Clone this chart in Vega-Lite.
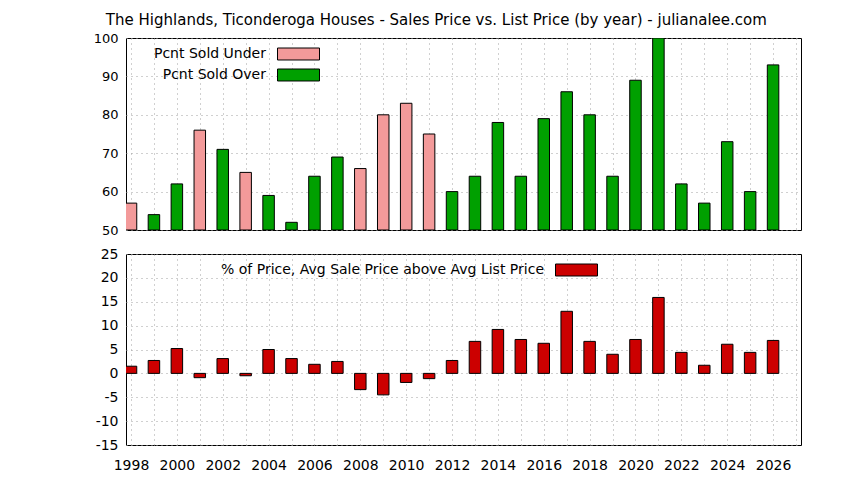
{
  "$schema": "https://vega.github.io/schema/vega-lite/v6.json",
  "background": "white",
  "padding": {"left": 92, "top": 12, "right": 0, "bottom": 0},
  "title": {
    "text": "The Highlands, Ticonderoga Houses - Sales Price vs. List Price (by year) - julianalee.com",
    "anchor": "middle",
    "dx": -11,
    "fontSize": 15,
    "fontWeight": "normal",
    "color": "black",
    "offset": 4
  },
  "datasets": {
    "sales": [
      {"year": 1998, "pcnt": 57, "kind": "Pcnt Sold Under", "above": 1.5, "series": "% of Price, Avg Sale Price above Avg List Price"},
      {"year": 1999, "pcnt": 54, "kind": "Pcnt Sold Over", "above": 2.7, "series": "% of Price, Avg Sale Price above Avg List Price"},
      {"year": 2000, "pcnt": 62, "kind": "Pcnt Sold Over", "above": 5.2, "series": "% of Price, Avg Sale Price above Avg List Price"},
      {"year": 2001, "pcnt": 76, "kind": "Pcnt Sold Under", "above": -0.9, "series": "% of Price, Avg Sale Price above Avg List Price"},
      {"year": 2002, "pcnt": 71, "kind": "Pcnt Sold Over", "above": 3.1, "series": "% of Price, Avg Sale Price above Avg List Price"},
      {"year": 2003, "pcnt": 65, "kind": "Pcnt Sold Under", "above": -0.5, "series": "% of Price, Avg Sale Price above Avg List Price"},
      {"year": 2004, "pcnt": 59, "kind": "Pcnt Sold Over", "above": 5.0, "series": "% of Price, Avg Sale Price above Avg List Price"},
      {"year": 2005, "pcnt": 52, "kind": "Pcnt Sold Over", "above": 3.1, "series": "% of Price, Avg Sale Price above Avg List Price"},
      {"year": 2006, "pcnt": 64, "kind": "Pcnt Sold Over", "above": 1.9, "series": "% of Price, Avg Sale Price above Avg List Price"},
      {"year": 2007, "pcnt": 69, "kind": "Pcnt Sold Over", "above": 2.5, "series": "% of Price, Avg Sale Price above Avg List Price"},
      {"year": 2008, "pcnt": 66, "kind": "Pcnt Sold Under", "above": -3.4, "series": "% of Price, Avg Sale Price above Avg List Price"},
      {"year": 2009, "pcnt": 80, "kind": "Pcnt Sold Under", "above": -4.5, "series": "% of Price, Avg Sale Price above Avg List Price"},
      {"year": 2010, "pcnt": 83, "kind": "Pcnt Sold Under", "above": -1.9, "series": "% of Price, Avg Sale Price above Avg List Price"},
      {"year": 2011, "pcnt": 75, "kind": "Pcnt Sold Under", "above": -1.1, "series": "% of Price, Avg Sale Price above Avg List Price"},
      {"year": 2012, "pcnt": 60, "kind": "Pcnt Sold Over", "above": 2.7, "series": "% of Price, Avg Sale Price above Avg List Price"},
      {"year": 2013, "pcnt": 64, "kind": "Pcnt Sold Over", "above": 6.7, "series": "% of Price, Avg Sale Price above Avg List Price"},
      {"year": 2014, "pcnt": 78, "kind": "Pcnt Sold Over", "above": 9.2, "series": "% of Price, Avg Sale Price above Avg List Price"},
      {"year": 2015, "pcnt": 64, "kind": "Pcnt Sold Over", "above": 7.1, "series": "% of Price, Avg Sale Price above Avg List Price"},
      {"year": 2016, "pcnt": 79, "kind": "Pcnt Sold Over", "above": 6.3, "series": "% of Price, Avg Sale Price above Avg List Price"},
      {"year": 2017, "pcnt": 86, "kind": "Pcnt Sold Over", "above": 13.0, "series": "% of Price, Avg Sale Price above Avg List Price"},
      {"year": 2018, "pcnt": 80, "kind": "Pcnt Sold Over", "above": 6.7, "series": "% of Price, Avg Sale Price above Avg List Price"},
      {"year": 2019, "pcnt": 64, "kind": "Pcnt Sold Over", "above": 4.0, "series": "% of Price, Avg Sale Price above Avg List Price"},
      {"year": 2020, "pcnt": 89, "kind": "Pcnt Sold Over", "above": 7.1, "series": "% of Price, Avg Sale Price above Avg List Price"},
      {"year": 2021, "pcnt": 100, "kind": "Pcnt Sold Over", "above": 15.9, "series": "% of Price, Avg Sale Price above Avg List Price"},
      {"year": 2022, "pcnt": 62, "kind": "Pcnt Sold Over", "above": 4.4, "series": "% of Price, Avg Sale Price above Avg List Price"},
      {"year": 2023, "pcnt": 57, "kind": "Pcnt Sold Over", "above": 1.7, "series": "% of Price, Avg Sale Price above Avg List Price"},
      {"year": 2024, "pcnt": 73, "kind": "Pcnt Sold Over", "above": 6.1, "series": "% of Price, Avg Sale Price above Avg List Price"},
      {"year": 2025, "pcnt": 60, "kind": "Pcnt Sold Over", "above": 4.4, "series": "% of Price, Avg Sale Price above Avg List Price"},
      {"year": 2026, "pcnt": 93, "kind": "Pcnt Sold Over", "above": 6.9, "series": "% of Price, Avg Sale Price above Avg List Price"}
    ]
  },
  "spacing": 8,
  "vconcat": [
    {
      "width": 675,
      "height": 192,
      "data": {"name": "sales"},
      "layer": [
        {
          "mark": {"type": "bar", "size": 11.5, "stroke": "black", "strokeWidth": 1, "clip": true},
          "encoding": {
            "x": {
              "field": "year", "type": "quantitative",
              "scale": {"domain": [1998, 2027], "nice": false, "zero": false},
              "axis": {
                "orient": "bottom", "title": null, "labels": false, "domain": false,
                "values": [1998,1999,2000,2001,2002,2003,2004,2005,2006,2007,2008,2009,2010,2011,2012,2013,2014,2015,2016,2017,2018,2019,2020,2021,2022,2023,2024,2025,2026,2027],
                "tickSize": 0, "grid": true,
                "encode": {"ticks": {"update": {"y2": {"value": -9}}}}
              }
            },
            "y": {
              "field": "pcnt", "type": "quantitative",
              "scale": {"domain": [50, 100], "nice": false, "zero": false},
              "axis": {
                "orient": "left", "title": null, "domain": false,
                "values": [50,51,52,53,54,55,56,57,58,59,60,61,62,63,64,65,66,67,68,69,70,71,72,73,74,75,76,77,78,79,80,81,82,83,84,85,86,87,88,89,90,91,92,93,94,95,96,97,98,99,100],
                "labelExpr": "datum.value % 10 === 0 ? '' + datum.value : ''",
                "tickSize": 0, "labelPadding": 8, "labelFontSize": 13, "minExtent": 30, "maxExtent": 30,
                "grid": true,
                "gridOpacity": {"condition": {"test": "datum.value % 10 === 0", "value": 1}, "value": 0},
                "encode": {"ticks": {"update": {"x2": {"signal": "datum.value % 10 === 0 ? 9 : 4"}}}}
              }
            },
            "y2": {"datum": 50},
            "color": {
              "field": "kind", "type": "nominal",
              "scale": {"domain": ["Pcnt Sold Under", "Pcnt Sold Over"], "range": ["#f39a9a", "#00a000"]},
              "legend": {
                "orient": "none", "legendX": 161.5, "legendY": 5, "title": null,
                "padding": 0, "rowPadding": 2,
                "symbolType": "M-2,-0.571H2V0.571H-2Z", "symbolSize": 441,
                "symbolStrokeColor": "black", "symbolStrokeWidth": 1, "symbolOpacity": 1,
                "labelAlign": "right", "labelOffset": -43.5, "labelFontSize": 14, "labelColor": "black"
              }
            }
          }
        },
        {
          "mark": {"type": "bar", "size": 11.5, "opacity": 0, "clip": true},
          "encoding": {
            "x": {
              "field": "year", "type": "quantitative",
              "axis": {
                "orient": "top", "title": null, "labels": false, "domain": false, "grid": false,
                "values": [1998,1999,2000,2001,2002,2003,2004,2005,2006,2007,2008,2009,2010,2011,2012,2013,2014,2015,2016,2017,2018,2019,2020,2021,2022,2023,2024,2025,2026,2027],
                "tickSize": 0,
                "encode": {"ticks": {"update": {"y2": {"value": 9}}}}
              }
            },
            "y": {
              "field": "pcnt", "type": "quantitative",
              "axis": {
                "orient": "right", "title": null, "labels": false, "domain": false, "grid": false,
                "values": [50,51,52,53,54,55,56,57,58,59,60,61,62,63,64,65,66,67,68,69,70,71,72,73,74,75,76,77,78,79,80,81,82,83,84,85,86,87,88,89,90,91,92,93,94,95,96,97,98,99,100],
                "tickSize": 0,
                "encode": {"ticks": {"update": {"x2": {"signal": "datum.value % 10 === 0 ? -9 : -4"}}}}
              }
            },
            "y2": {"datum": 50}
          }
        }
      ],
      "resolve": {"axis": {"x": "independent", "y": "independent"}}
    },
    {
      "width": 675,
      "height": 191,
      "data": {"name": "sales"},
      "layer": [
        {
          "mark": {"type": "bar", "size": 11.5, "stroke": "black", "strokeWidth": 1, "clip": true},
          "encoding": {
            "x": {
              "field": "year", "type": "quantitative",
              "scale": {"domain": [1998, 2027], "nice": false, "zero": false},
              "axis": {
                "orient": "bottom", "title": null, "domain": false,
                "values": [1998,1999,2000,2001,2002,2003,2004,2005,2006,2007,2008,2009,2010,2011,2012,2013,2014,2015,2016,2017,2018,2019,2020,2021,2022,2023,2024,2025,2026,2027],
                "labelExpr": "datum.value % 2 === 0 ? '' + datum.value : ''",
                "tickSize": 0, "labelPadding": 13, "labelFontSize": 14, "grid": true,
                "encode": {"ticks": {"update": {"y2": {"value": -9}}}}
              }
            },
            "y": {
              "field": "above", "type": "quantitative",
              "scale": {"domain": [-15, 25], "nice": false},
              "axis": {
                "orient": "left", "title": null, "domain": false,
                "values": [-15,-14.5,-14,-13.5,-13,-12.5,-12,-11.5,-11,-10.5,-10,-9.5,-9,-8.5,-8,-7.5,-7,-6.5,-6,-5.5,-5,-4.5,-4,-3.5,-3,-2.5,-2,-1.5,-1,-0.5,0,0.5,1,1.5,2,2.5,3,3.5,4,4.5,5,5.5,6,6.5,7,7.5,8,8.5,9,9.5,10,10.5,11,11.5,12,12.5,13,13.5,14,14.5,15,15.5,16,16.5,17,17.5,18,18.5,19,19.5,20,20.5,21,21.5,22,22.5,23,23.5,24,24.5,25],
                "labelExpr": "datum.value % 5 === 0 ? '' + datum.value : ''",
                "tickSize": 0, "labelPadding": 8, "labelFontSize": 14, "minExtent": 30, "maxExtent": 30,
                "grid": true,
                "gridOpacity": {"condition": {"test": "datum.value % 5 === 0", "value": 1}, "value": 0},
                "encode": {"ticks": {"update": {"x2": {"signal": "datum.value % 5 === 0 ? 9 : 4"}}}}
              }
            },
            "color": {
              "field": "series", "type": "nominal",
              "scale": {"range": ["#cc0000"]},
              "legend": {
                "orient": "none", "legendX": 439.5, "legendY": 5, "title": null,
                "padding": 0,
                "symbolType": "M-2,-0.571H2V0.571H-2Z", "symbolSize": 441,
                "symbolStrokeColor": "black", "symbolStrokeWidth": 1, "symbolOpacity": 1,
                "labelAlign": "right", "labelOffset": -43.5, "labelFontSize": 14, "labelColor": "black", "labelLimit": 0
              }
            }
          }
        },
        {
          "mark": {"type": "bar", "size": 11.5, "opacity": 0, "clip": true},
          "encoding": {
            "x": {
              "field": "year", "type": "quantitative",
              "axis": {
                "orient": "top", "title": null, "labels": false, "domain": false, "grid": false,
                "values": [1998,1999,2000,2001,2002,2003,2004,2005,2006,2007,2008,2009,2010,2011,2012,2013,2014,2015,2016,2017,2018,2019,2020,2021,2022,2023,2024,2025,2026,2027],
                "tickSize": 0,
                "encode": {"ticks": {"update": {"y2": {"value": 9}}}}
              }
            },
            "y": {
              "field": "above", "type": "quantitative",
              "axis": {
                "orient": "right", "title": null, "labels": false, "domain": false, "grid": false,
                "values": [-15,-14.5,-14,-13.5,-13,-12.5,-12,-11.5,-11,-10.5,-10,-9.5,-9,-8.5,-8,-7.5,-7,-6.5,-6,-5.5,-5,-4.5,-4,-3.5,-3,-2.5,-2,-1.5,-1,-0.5,0,0.5,1,1.5,2,2.5,3,3.5,4,4.5,5,5.5,6,6.5,7,7.5,8,8.5,9,9.5,10,10.5,11,11.5,12,12.5,13,13.5,14,14.5,15,15.5,16,16.5,17,17.5,18,18.5,19,19.5,20,20.5,21,21.5,22,22.5,23,23.5,24,24.5,25],
                "tickSize": 0,
                "encode": {"ticks": {"update": {"x2": {"signal": "datum.value % 5 === 0 ? -9 : -4"}}}}
              }
            }
          }
        }
      ],
      "resolve": {"axis": {"x": "independent", "y": "independent"}}
    }
  ],
  "resolve": {"scale": {"color": "independent"}},
  "config": {
    "font": "DejaVu Sans",
    "view": {"stroke": "black", "strokeWidth": 1},
    "axis": {
      "labelFont": "DejaVu Sans",
      "labelFontSize": 14,
      "labelColor": "black",
      "tickColor": "black",
      "tickWidth": 1,
      "gridColor": "#a0a0a0",
      "gridDash": [1, 4],
      "gridWidth": 1
    },
    "legend": {"labelFont": "DejaVu Sans"},
    "title": {"font": "DejaVu Sans"}
  }
}
